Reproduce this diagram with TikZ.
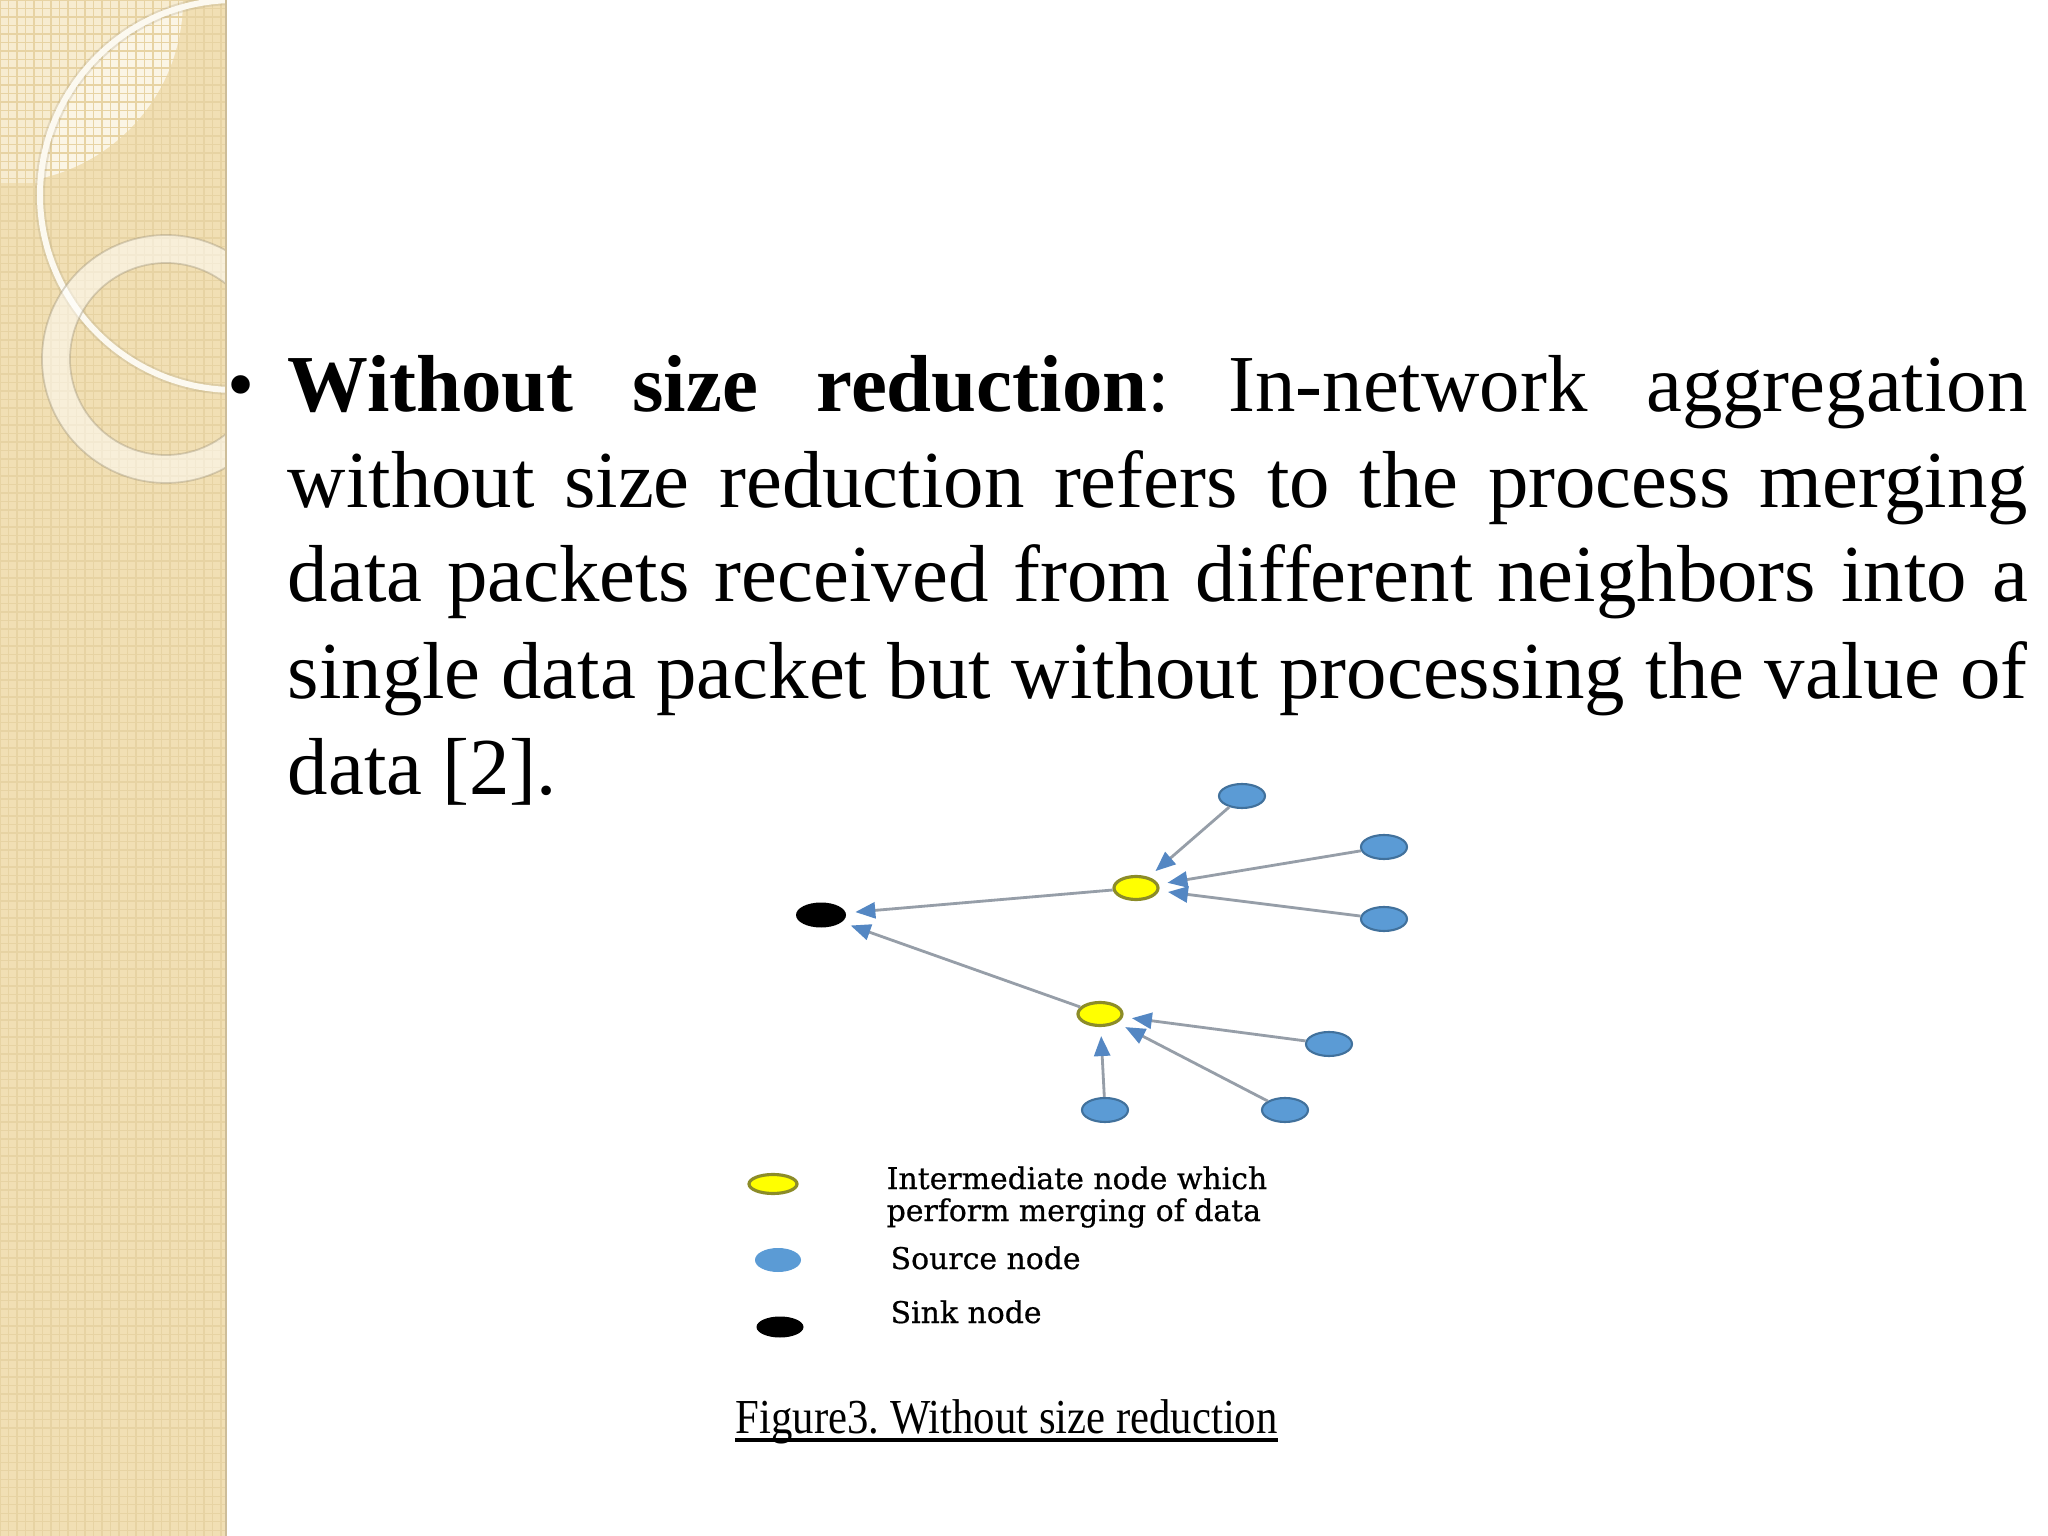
\documentclass[tikz,border=0pt]{standalone}
\usepackage{fontspec}
\setmainfont{Liberation Serif}
\newfontfamily\legendfont[FakeBold=0.6]{DejaVu Serif}
\usepackage{graphicx}
\usetikzlibrary{arrows.meta,shapes.geometric}

\definecolor{panel}{RGB}{241,223,180}
\definecolor{panellight}{RGB}{247,236,208}
\definecolor{panelline}{RGB}{231,211,163}
\definecolor{srcblue}{RGB}{91,155,213}
\definecolor{srcedge}{RGB}{65,113,156}
\definecolor{mergeyellow}{RGB}{255,255,0}
\definecolor{mergeedge}{RGB}{140,140,40}
\definecolor{linkgray}{RGB}{150,158,168}
\definecolor{headblue}{RGB}{84,135,195}

\newlength\bodywidth
\setlength\bodywidth{17.40cm}
\newcommand\bodyline[1]{\makebox[\bodywidth][s]{#1}}
\frenchspacing

\begin{document}
\begin{tikzpicture}[
    src/.style={ellipse, fill=srcblue, draw=srcedge, line width=0.6pt,
                minimum width=0.46cm, minimum height=0.24cm, inner sep=0pt},
    merge/.style={ellipse, fill=mergeyellow, draw=mergeedge, line width=0.9pt,
                minimum width=0.44cm, minimum height=0.23cm, inner sep=0pt},
    sinknode/.style={ellipse, fill=black, minimum width=0.50cm,
                minimum height=0.25cm, inner sep=0pt},
    flow/.style={draw=linkgray, line width=0.8pt, shorten >=0.09cm,
                -{Triangle[length=0.2cm, width=0.16cm, color=headblue]}},
    bodytext/.style={anchor=base west, inner sep=0pt, font=\fontsize{23}{27}\selectfont},
    legtext/.style={anchor=base west, inner sep=0pt, align=left,
                font=\legendfont\fontsize{8.5}{9.1}\selectfont}
  ]
  \useasboundingbox (0,0) rectangle (20.48,-15.36);
  \fill[white] (0,0) rectangle (20.48,-15.36);
  %%%%%%%%%%%%%%%%%%%%%%%%%%%%%%%%%%%%%%%%%%%%%%%
  \begin{scope}
    \clip (0,0) rectangle (2.26,-15.36);
    \fill[panel] (0,0) rectangle (2.26,-15.36);
    \fill[panellight] (0,0) rectangle (1.83,-1.83);
    \begin{scope}
      \clip (2.35,-1.95) circle (1.95);
      \fill[panel] (0,0) rectangle (1.83,-1.83);
      \fill[panellight!55!white] (0,0) circle (1.83);
    \end{scope}
    \draw[panelline, line width=0.35pt, step=0.085] (0,-15.36) grid (2.26,0);
    \draw[panel!70!black, opacity=0.25, line width=0.10cm] (2.35,-1.95) circle (1.95);
    \draw[white!80!panel, line width=0.06cm] (2.35,-1.95) circle (1.95);
    \draw[white, opacity=0.5, line width=0.28cm] (1.66,-3.59) circle (1.10);
    \draw[panel!65!black, opacity=0.4, line width=0.5pt] (1.66,-3.59) circle (1.24)
         (1.66,-3.59) circle (0.96);
  \end{scope}
  \draw[panel!85!black, line width=0.5pt] (2.26,0) -- (2.26,-15.36);
  %%%%%%%%%%%%%%%%%%%%%%%%%%%%%%%%%%%%%%%%%%%%%%%
  \node[anchor=base, inner sep=0pt, font=\fontsize{22}{22}\selectfont] (dot) at (2.41,-4.11) {\textbullet};
  \node[bodytext] (b1) at (2.87,-4.12) {\bodyline{\textbf{Without size reduction}: In-network aggregation}};
  \node[bodytext] (b2) at (2.87,-5.07) {\bodyline{without size reduction refers to the process merging}};
  \node[bodytext] (b3) at (2.87,-6.02) {\bodyline{data packets received from different neighbors into a}};
  \node[bodytext] (b4) at (2.87,-6.98) {\bodyline{single data packet but without processing the value of}};
  \node[bodytext] (b5) at (2.87,-7.95) {data [2].};
  %%%%%%%%%%%%%%%%%%%%%%%%%%%%%%%%%%%%%%%%%%%%%%%
  \node[sinknode] (sink) at (8.21,-9.15) {};
  \node[merge] (m1) at (11.36,-8.88) {};
  \node[merge] (m2) at (11.00,-10.14) {};
  \node[src] (s1) at (12.42,-7.96) {};
  \node[src] (s2) at (13.84,-8.47) {};
  \node[src] (s3) at (13.84,-9.19) {};
  \node[src] (s4) at (13.29,-10.44) {};
  \node[src] (s5) at (11.05,-11.10) {};
  \node[src] (s6) at (12.85,-11.10) {};
  \draw[flow] (s1) -- (m1);
  \draw[flow] (s2) -- (m1);
  \draw[flow] (s3) -- (m1);
  \draw[flow] (s4) -- (m2);
  \draw[flow] (s5) -- (m2);
  \draw[flow] (s6) -- (m2);
  \draw[flow] (m1) -- (sink);
  \draw[flow] (m2) -- (sink);
  %%%%%%%%%%%%%%%%%%%%%%%%%%%%%%%%%%%%%%%%%%%%%%%
  \node[merge, minimum width=0.48cm, minimum height=0.19cm] (k1) at (7.73,-11.84) {};
  \node[src, draw=none] (k2) at (7.78,-12.60) {};
  \node[sinknode, minimum width=0.47cm, minimum height=0.21cm] (k3) at (7.80,-13.27) {};
  \node[legtext] (t1) at (8.86,-12.21) {Intermediate node which\\perform merging of data};
  \node[legtext] (t2) at (8.90,-12.69) {Source node};
  \node[legtext] (t3) at (8.90,-13.23) {Sink node};
  %%%%%%%%%%%%%%%%%%%%%%%%%%%%%%%%%%%%%%%%%%%%%%%
  \node[anchor=base west, inner sep=0pt, font=\fontsize{13.9}{16}\selectfont] (cap) at (7.35,-14.33)
       {\scalebox{0.875}[1]{Figure3. Without size reduction}};
  \draw[line width=0.9pt] ([yshift=-0.07cm]cap.base west) -- ([yshift=-0.07cm]cap.base east);
\end{tikzpicture}
\end{document}
